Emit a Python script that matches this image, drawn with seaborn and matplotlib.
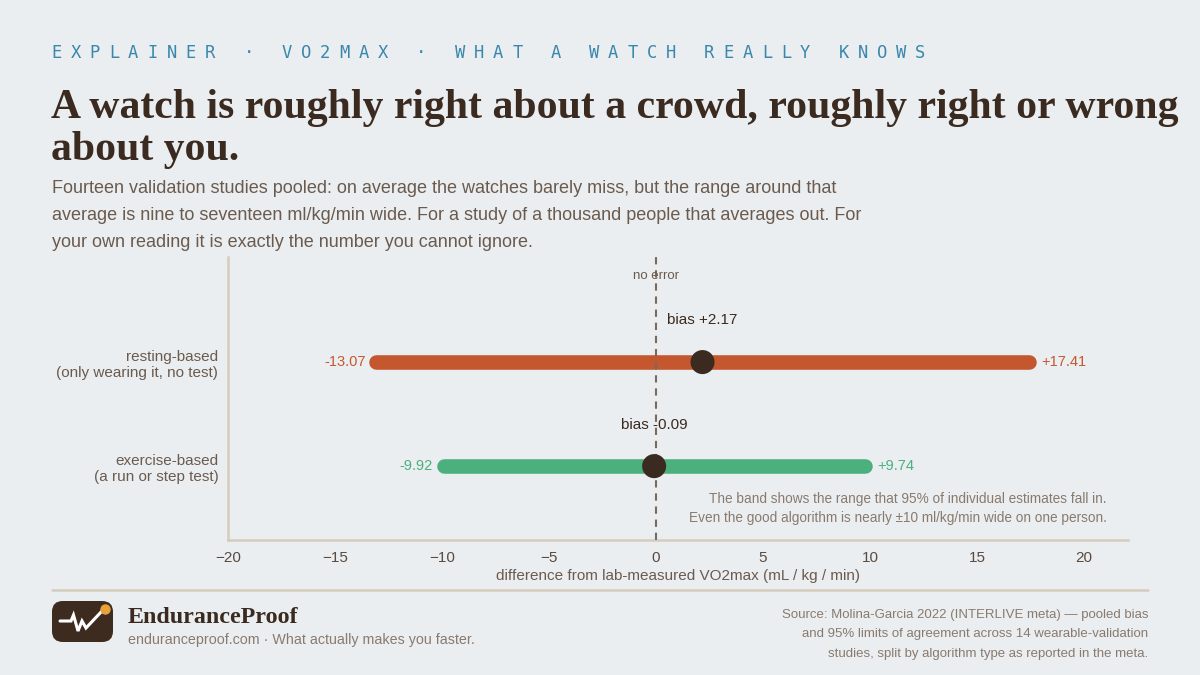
import numpy as np
import pandas as pd
import matplotlib
matplotlib.use("Agg")
import matplotlib.pyplot as plt
from matplotlib.patches import FancyBboxPatch
import seaborn as sns

# ---- data ----
categories = ["resting-based\n(only wearing it, no test)", "exercise-based\n(a run or step test)"]
lower = [-13.07, -9.92]
upper = [17.41, 9.74]
bias = [2.17, -0.09]
lower_labels = ["-13.07", "-9.92"]
upper_labels = ["+17.41", "+9.74"]
bias_labels = ["bias +2.17", "bias -0.09"]
bar_colors = ["#c5572f", "#4caf7e"]
xticks = [-20, -15, -10, -5, 0, 5, 10, 15, 20]

df = pd.DataFrame({"cat": categories, "pos": [0, 1], "lo": lower, "hi": upper, "bias": bias})

BG = "#eaeef0"
DARK = "#3b2a20"
MUTED = "#6b5a4e"
LIGHT = "#8a7a6e"
TAN = "#d6ccbd"
SANS = ["Liberation Sans", "DejaVu Sans"]
SERIF = ["Liberation Serif", "DejaVu Serif"]

sns.set_theme(style="white")
plt.rcParams["font.family"] = SANS

W, H = 1200, 675
fig = plt.figure(figsize=(12, 6.75), dpi=100, facecolor=BG)

def fx(x):
    return x / W

def fy(y):
    return 1 - y / H

ax = fig.add_axes([fx(228), fy(540), fx(1128) - fx(228), fy(257) - fy(540)])
ax.set_facecolor(BG)

# bars
for i, row in df.iterrows():
    ax.plot([row.lo, row.hi], [row.pos, row.pos], color=bar_colors[i], lw=10.5,
            solid_capstyle="round", zorder=2)
    ax.text(row.lo - 0.5, row.pos, lower_labels[i], color=bar_colors[i], fontsize=10.5,
            ha="right", va="center")
    ax.text(row.hi + 0.58, row.pos, upper_labels[i], color=bar_colors[i], fontsize=10.5,
            ha="left", va="center")
    ax.text(row.bias, row.pos - 0.4, bias_labels[i], color=DARK, fontsize=11,
            ha="center", va="center")

sns.scatterplot(data=df, x="bias", y="pos", ax=ax, s=300, color=DARK, edgecolor="none",
                zorder=4, legend=False)

ax.axvline(0, color="#7a6a5e", lw=1.5, ls=(0, (3.5, 2.8)), zorder=3)
ax.text(0, -0.83, "no error", color=MUTED, fontsize=9.5, ha="center", va="center", zorder=5)

ax.text(21.05, 1.405, "The band shows the range that 95% of individual estimates fall in.\n"
        "Even the good algorithm is nearly \u00b110 ml/kg/min wide on one person.",
        color=LIGHT, fontsize=9.8, ha="right", va="center", linespacing=1.45)

ax.set_xlim(-20, 22.05)
ax.set_ylim(1.71, -1.01)
ax.set_xticks(xticks)
ax.set_yticks([0, 1])
ax.set_yticklabels(categories, fontsize=11, color=MUTED, linespacing=1.25)
ax.tick_params(axis="x", labelsize=11, colors="#5a4a40", length=5, width=1.5, color=TAN, pad=3)
ax.tick_params(axis="y", length=3, width=1, color=MUTED, pad=4)
for lab in ax.get_xticklabels():
    lab.set_color("#5a4a40")
ax.set_xlabel("difference from lab-measured VO2max (mL / kg / min)", fontsize=11, color=MUTED, labelpad=3)
ax.set_ylabel("")
for s in ["top", "right"]:
    ax.spines[s].set_visible(False)
for s in ["left", "bottom"]:
    ax.spines[s].set_color(TAN)
    ax.spines[s].set_linewidth(1.8)
ax.grid(False)

# ---- header ----
kicker = "EXPLAINER \u00b7 VO2MAX \u00b7 WHAT A WATCH REALLY KNOWS"
pitch = 19.2
for i, ch in enumerate(kicker):
    if ch != " ":
        fig.text(fx(52 + 4.5 + i * pitch), fy(53), ch, color="#3a87ad", fontsize=12.3,
                 family=["DejaVu Sans Mono"], ha="center", va="center")

fig.text(fx(51), fy(118), "A watch is roughly right about a crowd, roughly right or wrong",
         color=DARK, fontsize=30.1, family=SERIF, weight="bold", ha="left", va="baseline")
fig.text(fx(51), fy(160), "about you.", color=DARK, fontsize=30.1, family=SERIF,
         weight="bold", ha="left", va="baseline")

sub = ["Fourteen validation studies pooled: on average the watches barely miss, but the range around that",
       "average is nine to seventeen ml/kg/min wide. For a study of a thousand people that averages out. For",
       "your own reading it is exactly the number you cannot ignore."]
for i, line in enumerate(sub):
    fig.text(fx(52), fy(193 + i * 27), line, color=MUTED, fontsize=12.95, ha="left", va="baseline")

# ---- footer ----
fig.add_artist(plt.Line2D([fx(52), fx(1148)], [fy(590), fy(590)], color=TAN, lw=1.8,
                          transform=fig.transFigure))
logo = FancyBboxPatch((fx(52), fy(642)), fx(61), fy(601) - fy(642),
                      boxstyle="round,pad=0,rounding_size=0.009", transform=fig.transFigure,
                      facecolor="#3d2b20", edgecolor="none", mutation_aspect=W / H)
fig.add_artist(logo)
px = [60, 71, 73.5, 78, 82, 86, 102]
py = [621, 621, 615, 631, 621, 628, 611]
fig.add_artist(plt.Line2D([fx(v) for v in px], [fy(v) for v in py], color="white", lw=2.2,
                          transform=fig.transFigure, solid_joinstyle="miter"))
fig.add_artist(plt.Line2D([fx(105)], [fy(609)], marker="o", markersize=6.5, color="#e8a23a",
                          transform=fig.transFigure, lw=0))

fig.text(fx(128), fy(623), "EnduranceProof", color=DARK, fontsize=17.3, family=SERIF,
         weight="bold", ha="left", va="baseline")
fig.text(fx(128), fy(644), "enduranceproof.com \u00b7 What actually makes you faster.",
         color=LIGHT, fontsize=10.3, ha="left", va="baseline")

src = ["Source: Molina-Garcia 2022 (INTERLIVE meta) \u2014 pooled bias",
       "and 95% limits of agreement across 14 wearable-validation",
       "studies, split by algorithm type as reported in the meta."]
for i, line in enumerate(src):
    fig.text(fx(1148), fy(618 + i * 19.5), line, color=LIGHT, fontsize=9.5, ha="right", va="baseline")

fig.savefig("out.png", dpi=100, facecolor=BG)
